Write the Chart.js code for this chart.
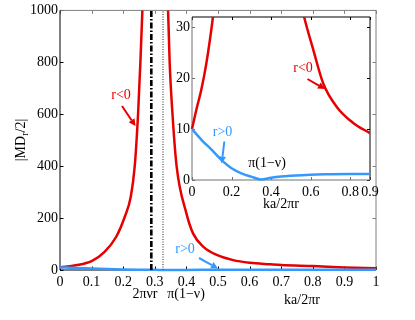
<!DOCTYPE html>
<html><head><meta charset="utf-8">
<script src="https://cdn.jsdelivr.net/npm/chart.js@4"></script>
<style>html,body{margin:0;padding:0;background:#fff;}#wrap{position:relative;width:415px;height:320px;}canvas{position:absolute;left:0;top:0;}</style>
</head><body><div id="wrap"><canvas id="main" width="415" height="320"></canvas><canvas id="inset" width="415" height="320"></canvas></div>
<script>
// ---- tick values ----
const mainXTicks=[0,0.1,0.2,0.3,0.4,0.5,0.6,0.7,0.8,0.9,1];
const mainYTicks=[0,200,400,600,800,1000];
const insetXTicks=[0,0.2,0.4,0.6,0.8,0.9];
const insetYTicks=[0,10,20,30];
// ---- main chart series (r<0, red, two branches around the pole) ----
const redLeftX=[0,0.05,0.1,0.141,0.178,0.205,0.224,0.2365,0.247,0.2544,0.2607,0.268];
const redLeftY=[10,18,34,70,128,205,282,400,600,800,1000,1300];
const redRightX=[0.336,0.342,0.347,0.356,0.369,0.40,0.421,0.453,0.496,0.548,0.601,0.665,0.7,0.8,0.9,1.0];
const redRightY=[1300,1000,800,600,400,218,141,90,58,38,28,22,19,15,10,6.5];
// ---- r>0, blue ----
const blueX=[0,0.05,0.1,0.15,0.2,0.25,0.3,0.35,0.4,0.45,0.5,0.6,0.7,0.8,0.9,1.0];
const blueY=[10,7.8,5.9,3.9,2.3,1.3,0.66,0.1,0.45,0.7,0.85,1.05,1.12,1.17,1.2,1.22];
// ---- inset red (r<0) ----
const insRedLeftX=[0,0.022,0.047,0.073,0.093,0.106,0.115];
const insRedLeftY=[10,13.8,17.7,23,28.2,32.1,36];
const insRedRightX=[0.55,0.567,0.613,0.663,0.731,0.815,0.9];
const insRedRightY=[35,32,25.6,19,14.4,11.2,9.2];
// ---- vertical reference lines: 2πνr and π(1−ν) ----
const vLineX=[0.289,0.326];
const vLineY=[0,1000];

const SERIF="'Liberation Serif','Times New Roman',serif";
const RED='#e60000', BLUE='#3399ff';
function pts(xs,ys){return xs.map((x,i)=>({x:x,y:ys[i]}));}
function setTicks(arr){return function(s){s.ticks=arr.map(v=>({value:v}));};}

const boxPlugin={id:'boxTicks',
 beforeDraw(chart,args,o){ if(o.fill){const a=chart.chartArea,c=chart.ctx;c.save();c.fillStyle=o.fill;c.fillRect(a.left,a.top,a.right-a.left,a.bottom-a.top);c.restore();}},
 beforeDatasetsDraw(chart,args,o){
  const c=chart.ctx,a=chart.chartArea,xs=chart.scales.x,ys=chart.scales.y,L=o.len;
  c.save();c.lineWidth=1;
  xs.ticks.forEach(t=>{const p=Math.round(xs.getPixelForValue(t.value))+0.5;
    c.strokeStyle=o.bottom;c.beginPath();c.moveTo(p,a.bottom);c.lineTo(p,a.bottom-L);c.stroke();
    c.strokeStyle=o.top;c.beginPath();c.moveTo(p,a.top);c.lineTo(p,a.top+L);c.stroke();});
  ys.ticks.forEach(t=>{const p=Math.round(ys.getPixelForValue(t.value))+0.5;
    c.strokeStyle=o.left;c.beginPath();c.moveTo(a.left,p);c.lineTo(a.left+L,p);c.stroke();
    c.strokeStyle=o.right;c.beginPath();c.moveTo(a.right,p);c.lineTo(a.right-L,p);c.stroke();});
  c.lineWidth=o.lw;
  c.strokeStyle=o.top;c.beginPath();c.moveTo(a.left,a.top);c.lineTo(a.right,a.top);c.stroke();
  c.strokeStyle=o.right;c.beginPath();c.moveTo(a.right,a.top);c.lineTo(a.right,a.bottom);c.stroke();
  c.strokeStyle=o.left;c.beginPath();c.moveTo(a.left,a.top);c.lineTo(a.left,a.bottom);c.stroke();
  c.strokeStyle=o.bottom;c.beginPath();c.moveTo(a.left,a.bottom);c.lineTo(a.right,a.bottom);c.stroke();
  c.restore();
 }};

function arrow(c,x1,y1,x2,y2,color,w){
  const ang=Math.atan2(y2-y1,x2-x1),hl=7,hw=3.5;
  const bx=x2-hl*Math.cos(ang),by=y2-hl*Math.sin(ang);
  c.strokeStyle=color;c.fillStyle=color;c.lineWidth=w;
  c.beginPath();c.moveTo(x1,y1);c.lineTo(bx,by);c.stroke();
  c.beginPath();c.moveTo(x2,y2);c.lineTo(bx+hw*Math.sin(ang),by-hw*Math.cos(ang));c.lineTo(bx-hw*Math.sin(ang),by+hw*Math.cos(ang));c.closePath();c.fill();
}
function txt(c,s,x,y,color,size){c.font=(size||14)+'px '+SERIF;c.fillStyle=color||'#000';c.textAlign='center';c.textBaseline='middle';c.fillText(s,x,y);}

const mainNotes={id:'mainNotes',afterDraw(chart){
  const c=chart.ctx;c.save();
  txt(c,'r<0',121,95,RED);
  arrow(c,122,106,135.5,126,RED,2);
  txt(c,'r>0',185,249,BLUE);
  arrow(c,199,258,218,268.5,BLUE,2);
  txt(c,'2πνr',145,294.5,'#000');
  txt(c,'π(1−ν)',186,294.5,'#000');
  txt(c,'ka/2πr',302,300,'#000');
  // y title |MD_r/2|
  c.translate(21,140);c.rotate(-Math.PI/2);
  const f1='14px '+SERIF,f2='10px '+SERIF;
  c.font=f1;const w1=c.measureText('|MD').width,w3=c.measureText('/2|').width;
  c.font=f2;const w2=c.measureText('r').width;
  let x=-(w1+w2+w3)/2;c.textAlign='left';c.textBaseline='middle';c.fillStyle='#000';
  c.font=f1;c.fillText('|MD',x,0);x+=w1;
  c.font=f2;c.fillText('r',x,4);x+=w2;
  c.font=f1;c.fillText('/2|',x,0);
  c.restore();
}};
const insetNotes={id:'insetNotes',afterDraw(chart){
  const c=chart.ctx;c.save();
  txt(c,'r<0',303,68,RED);
  arrow(c,307.5,79,325,89,RED,2);
  txt(c,'r>0',222.5,132.5,BLUE);
  arrow(c,224.3,141.5,221.7,163.5,BLUE,2);
  txt(c,'π(1−ν)',267,163.5,'#000');
  txt(c,'ka/2πr',281,204.5,'#000');
  c.restore();
}};

const tickFont={family:SERIF,size:14};
function lineDs(data,color,w,clip){return {data:data,borderColor:color,borderWidth:w,pointRadius:0,fill:false,cubicInterpolationMode:'monotone',clip:clip};}
function vline(x,color,w,dash){return {data:vLineY.map(y=>({x:x,y:y})),borderColor:color,borderWidth:w,borderDash:dash,pointRadius:0,fill:false,tension:0,clip:0};}

new Chart(document.getElementById('main'),{
  type:'line',
  data:{datasets:[
    vline(vLineX[0],'#000',2.6,[6,2,1.5,2]),
    vline(vLineX[1],'#555',1.3,[1,1.5]),
    lineDs(pts(blueX,blueY),BLUE,2.5,{left:0,top:0,right:0,bottom:3}),
    lineDs(pts(redLeftX,redLeftY),RED,2.5,{left:2,top:0,right:2,bottom:2}),
    lineDs(pts(redRightX,redRightY),RED,2.5,{left:2,top:0,right:2,bottom:2})
  ]},
  options:{responsive:false,animation:false,devicePixelRatio:1,
    layout:{padding:{left:0,top:10,right:39,bottom:0}},
    plugins:{legend:{display:false},tooltip:{enabled:false},
      boxTicks:{len:3.5,lw:1,top:'#808080',right:'#808080',left:'#000',bottom:'#000'}},
    scales:{
      x:{type:'linear',min:0,max:1,grid:{display:false,drawTicks:false},border:{display:false},
         afterBuildTicks:setTicks(mainXTicks),afterFit:function(s){s.height=50;},
         ticks:{font:tickFont,color:'#000',padding:4,maxRotation:0,autoSkip:false,callback:v=>String(v)}},
      y:{type:'linear',min:0,max:1000,grid:{display:false,drawTicks:false},border:{display:false},
         afterBuildTicks:setTicks(mainYTicks),afterFit:function(s){s.width=60;},
         ticks:{font:tickFont,color:'#000',padding:2,autoSkip:false,callback:v=>String(v)}}
    }},
  plugins:[boxPlugin,mainNotes]
});

new Chart(document.getElementById('inset'),{
  type:'line',
  data:{datasets:[
    lineDs(pts(blueX,blueY),BLUE,2.5,{left:0,top:0,right:0,bottom:2}),
    lineDs(pts(insRedLeftX,insRedLeftY),RED,2.5,{left:2,top:0,right:0,bottom:2}),
    lineDs(pts(insRedRightX,insRedRightY),RED,2.5,{left:0,top:0,right:0,bottom:2})
  ]},
  options:{responsive:false,animation:false,devicePixelRatio:1,
    layout:{padding:{left:0,top:17,right:45,bottom:0}},
    plugins:{legend:{display:false},tooltip:{enabled:false},
      boxTicks:{len:3,lw:1,fill:'#fff',top:'#000',right:'#000',left:'#707070',bottom:'#707070'}},
    scales:{
      x:{type:'linear',min:0,max:0.9,grid:{display:false,drawTicks:false},border:{display:false},
         afterBuildTicks:setTicks(insetXTicks),afterFit:function(s){s.height=140;},
         ticks:{font:tickFont,color:'#000',padding:4,maxRotation:0,autoSkip:false,callback:v=>String(v)}},
      y:{type:'linear',min:0,max:32,grid:{display:false,drawTicks:false},border:{display:false},
         afterBuildTicks:setTicks(insetYTicks),afterFit:function(s){s.width=192;},
         ticks:{font:tickFont,color:'#000',padding:2,autoSkip:false,callback:v=>String(v)}}
    }},
  plugins:[boxPlugin,insetNotes]
});
</script></body></html>
